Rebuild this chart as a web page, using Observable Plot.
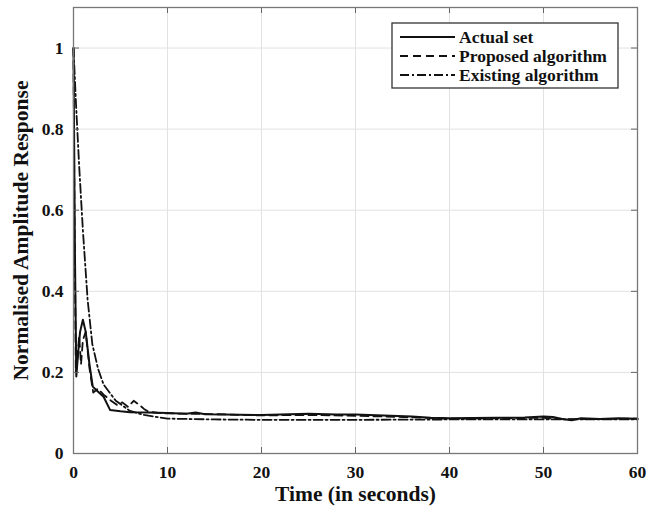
<!DOCTYPE html>
<html>
<head>
<meta charset="utf-8">
<script src="https://cdn.jsdelivr.net/npm/d3@7"></script>
<script src="https://cdn.jsdelivr.net/npm/@observablehq/plot@0.6"></script>
<style>
  html, body { margin: 0; padding: 0; background: #fff; }
  #chart { position: relative; width: 657px; height: 513px; }
</style>
</head>
<body>
<div id="chart"></div>
<script>
// ---- data ----
const actualT = [0, 0.15, 0.3, 0.5, 0.7, 1.0, 1.3, 1.7, 2.05, 2.5, 3.2, 3.9, 5, 6, 8, 10, 12, 13, 14, 16, 20, 22, 25, 28, 30, 33, 36, 38, 40, 45, 48, 50, 51, 52, 53, 54, 56, 58, 60];
const actualV = [1.0, 0.5, 0.19, 0.25, 0.3, 0.33, 0.3, 0.22, 0.165, 0.155, 0.14, 0.107, 0.104, 0.102, 0.101, 0.1, 0.098, 0.101, 0.097, 0.096, 0.095, 0.096, 0.098, 0.096, 0.096, 0.094, 0.091, 0.088, 0.087, 0.088, 0.089, 0.091, 0.09, 0.085, 0.082, 0.087, 0.085, 0.087, 0.086];

const proposedT = [0, 0.1, 0.25, 0.4, 0.6, 0.8, 1.0, 1.3, 1.7, 2.1, 2.6, 3.2, 4, 4.6, 5.2, 5.8, 6.4, 7, 7.5, 8, 9, 10, 15, 20, 25, 30, 35, 40, 45, 50, 52, 55, 60];
const proposedV = [1.0, 0.6, 0.2, 0.23, 0.29, 0.22, 0.28, 0.3, 0.21, 0.15, 0.16, 0.145, 0.13, 0.12, 0.126, 0.115, 0.13, 0.12, 0.11, 0.103, 0.1, 0.099, 0.097, 0.094, 0.095, 0.093, 0.09, 0.086, 0.087, 0.088, 0.085, 0.085, 0.086];

const existingT = [0, 0.25, 0.6, 1.0, 1.5, 2.0, 2.6, 3.2, 4.5, 6, 7.5, 10, 15, 20, 30, 40, 50, 60];
const existingV = [1.0, 0.87, 0.71, 0.55, 0.38, 0.27, 0.21, 0.17, 0.13, 0.105, 0.095, 0.086, 0.084, 0.083, 0.083, 0.084, 0.084, 0.084];

const seriesNames = ["Actual set", "Proposed algorithm", "Existing algorithm"];
const xTicks = [0, 10, 20, 30, 40, 50, 60];
const yTicks = [0, 0.2, 0.4, 0.6, 0.8, 1];
const xLabel = "Time (in seconds)";
const yLabel = "Normalised Amplitude Response";

// ---- build ----
const toRows = (T, V, s) => T.map((t, i) => ({t, v: V[i], s}));
const actual = toRows(actualT, actualV, seriesNames[0]);
const proposed = toRows(proposedT, proposedV, seriesNames[1]);
const existing = toRows(existingT, existingV, seriesNames[2]);

const W = 657, H = 513;
const mL = 73, mR = 20, mT = 7, mB = 60;
const innerH = H - mT - mB;
const font = "'Liberation Serif', 'Times New Roman', serif";
const dashStyles = [null, "8,5", "9,3,2,3"];

const plot = Plot.plot({
  width: W, height: H,
  marginLeft: mL, marginRight: mR, marginTop: mT, marginBottom: mB,
  style: {fontFamily: font, fontSize: "17.5px", fontWeight: "bold", color: "#111", background: "#fff"},
  x: {domain: [0, 60], ticks: xTicks},
  y: {domain: [0, 1.1], ticks: yTicks},
  marks: [
    Plot.gridX(xTicks, {stroke: "#e2e2e2", strokeOpacity: 1}),
    Plot.gridY(yTicks, {stroke: "#e2e2e2", strokeOpacity: 1}),
    Plot.line(existing, {x: "t", y: "v", stroke: "#111", strokeWidth: 1.8, strokeDasharray: dashStyles[2]}),
    Plot.line(proposed, {x: "t", y: "v", stroke: "#111", strokeWidth: 1.8, strokeDasharray: dashStyles[1]}),
    Plot.line(actual, {x: "t", y: "v", stroke: "#111", strokeWidth: 2}),
    // inward ticks on all four sides
    Plot.tickX(xTicks, {x: d => d, stroke: "#666", insetTop: innerH - 6}),
    Plot.tickX(xTicks, {x: d => d, stroke: "#666", insetBottom: innerH - 6}),
    Plot.tickY(yTicks, {y: d => d, stroke: "#666", insetRight: (W - mL - mR) - 6}),
    Plot.tickY(yTicks, {y: d => d, stroke: "#666", insetLeft: (W - mL - mR) - 6}),
    Plot.axisX(xTicks, {tickSize: 0, tickPadding: 12, label: null, fontSize: 17.5, fontWeight: "bold"}),
    Plot.axisY(yTicks, {tickSize: 0, tickPadding: 10, label: null, tickFormat: d => String(d), fontSize: 17.5, fontWeight: "bold"}),
    Plot.frame({stroke: "#777", strokeWidth: 1.3}),
    Plot.text([xLabel], {frameAnchor: "bottom", dy: 47, fontSize: 21.5, fontWeight: "bold", fill: "#111"}),
    Plot.text([yLabel], {frameAnchor: "left", textAnchor: "middle", dx: -52, rotate: -90, fontSize: 21.5, fontWeight: "bold", fill: "#111"})
  ]
});

document.getElementById("chart").appendChild(plot);

// ---- legend (inside the plot, top-right) ----
const svg = d3.select(plot);
const lg = svg.append("g").attr("transform", "translate(392,23)");
lg.append("rect").attr("width", 226).attr("height", 65)
  .attr("fill", "#fff").attr("stroke", "#333").attr("stroke-width", 1.3);
seriesNames.forEach((name, i) => {
  const y = 14 + i * 19;
  lg.append("line").attr("x1", 8).attr("x2", 63).attr("y1", y).attr("y2", y)
    .attr("stroke", "#111").attr("stroke-width", i === 0 ? 2 : 1.8)
    .attr("stroke-dasharray", dashStyles[i]);
  lg.append("text").attr("x", 67).attr("y", y).attr("dy", "0.35em")
    .attr("text-anchor", "start")
    .attr("font-family", font).attr("font-size", 17.5).attr("font-weight", "bold")
    .attr("fill", "#111").text(name);
});
</script>
</body>
</html>
